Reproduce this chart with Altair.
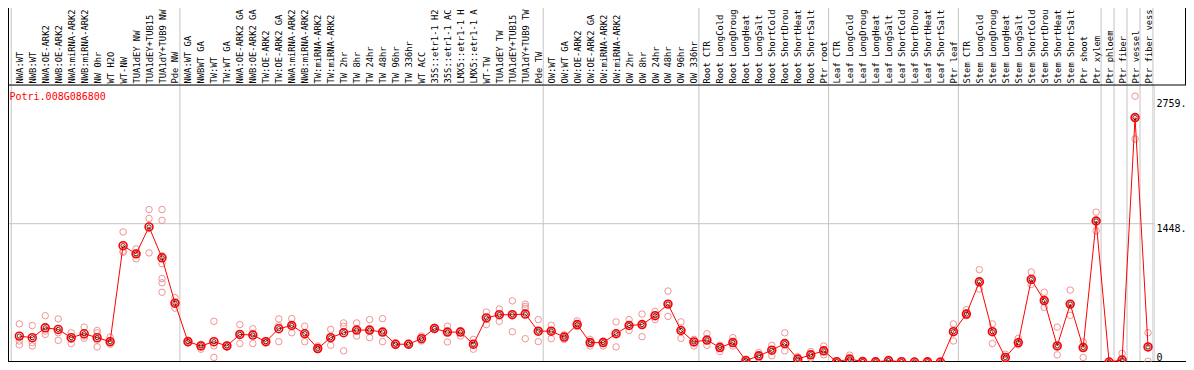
import json
import altair as alt
import pandas as pd

title_text = "Potri.008G086800"

# category labels as they read in the reference header (long ones are cut there)
labels = [
    "NWA:WT", "NWB:WT", "NWA:OE-ARK2", "NWB:OE-ARK2", "NWA:miRNA-ARK2", "NWB:miRNA-ARK2",
    "NW 0hr", "WT H2O", "WT-NW", "TUA1dEY NW", "TUA1dEY+TUB15", "TUA1dY+TUB9 NW", "Pde NW",
    "NWA:WT GA", "NWBWT GA", "TW:WT", "TW:WT GA", "NWA:OE-ARK2 GA", "NWB:OE-ARK2 GA",
    "TW:OE-ARK2", "TW:OE-ARK2 GA", "NWA:miRNA-ARK2", "NWB:miRNA-ARK2", "TW:miRNA-ARK2",
    "TW:miRNA-ARK2", "TW 2hr", "TW 8hr", "TW 24hr", "TW 48hr", "TW 96hr", "TW 336hr",
    "WT ACC", "35S::etr1-1 H2", "35S::etr1-1 AC", "LMX5::etr1-1 H", "LMX5::etr1-1 A",
    "WT-TW", "TUA1dEY TW", "TUA1dEY+TUB15", "TUA1dY+TUB9 TW", "Pde TW",
    "OW:WT", "OW:WT GA", "OW:OE-ARK2", "OW:OE-ARK2 GA", "OW:miRNA-ARK2", "OW:miRNA-ARK2",
    "OW 2hr", "OW 8hr", "OW 24hr", "OW 48hr", "OW 96hr", "OW 336hr",
    "Root CTR", "Root LongCold", "Root LongDroug", "Root LongHeat", "Root LongSalt",
    "Root ShortCold", "Root ShortDrou", "Root ShortHeat", "Root ShortSalt", "Ptr root",
    "Leaf CTR", "Leaf LongCold", "Leaf LongDroug", "Leaf LongHeat", "Leaf LongSalt",
    "Leaf ShortCold", "Leaf ShortDrou", "Leaf ShortHeat", "Leaf ShortSalt", "Ptr leaf",
    "Stem CTR", "Stem LongCold", "Stem LongDroug", "Stem LongHeat", "Stem LongSalt",
    "Stem ShortCold", "Stem ShortDrou", "Stem ShortHeat", "Stem ShortSalt", "Ptr shoot",
    "Ptr xylem", "Ptr phloem", "Ptr fiber", "Ptr vessel", "Ptr fiber vess",
]

group_sizes = [13, 28, 12, 10, 10, 11, 1, 1, 1, 1]

means = [
    271, 255, 358, 341, 255, 296, 255, 213, 1218, 1132, 1414, 1091, 616,
    213, 168, 213, 168, 289, 282, 213, 348, 382, 296, 141, 255, 306, 334, 334, 313,
    186, 186, 244, 351, 313, 313, 186, 461, 495, 495, 502, 323,
    323, 261, 392, 203, 203, 296, 382, 392, 485, 606, 330, 210,
    230, 151, 203, 14, 65, 124, 193, 31, 75, 117,
    3, 31, 5, 2, 14, 3, 0, 2, 0, 317,
    502, 839, 317, 48, 203, 864, 643, 168, 606, 151, 1476,
    0, 21, 2559, 158,
]

replicates = [
    [399, 220, 179], [382, 203, 168], [485, 323, 289], [451, 306, 227], [306, 237, 193],
    [365, 271, 248], [330, 306, 227, 158], [261, 186, 213], [1362, 1149, 1160],
    [1184, 1080, 1140], [1596, 1503, 1142], [1596, 1483, 1112, 1029, 874, 829, 730],
    [674, 564, 620],
    [230, 200, 213], [185, 134, 168], [426, 168, 48], [180, 160, 168], [392, 193, 289],
    [348, 193, 300], [225, 200, 213], [451, 213, 380], [454, 306, 382], [375, 213, 296],
    [168, 130, 141], [341, 175, 255], [409, 375, 117], [409, 272, 334], [444, 255, 334],
    [454, 213, 313], [200, 170, 186], [196, 176, 186], [272, 220, 244], [365, 340, 351],
    [375, 210, 313], [330, 272, 313], [237, 134, 186], [523, 392, 461], [554, 426, 495],
    [640, 317, 495], [606, 581, 560, 244], [444, 213, 323],
    [385, 244, 323], [285, 237, 261], [430, 370, 392], [237, 168, 203], [220, 168, 203],
    [420, 158, 296], [444, 330, 382], [502, 265, 392], [530, 444, 485], [743, 478, 606],
    [420, 248, 330], [237, 168, 210],
    [296, 175, 230], [175, 110, 151], [255, 168, 203], [31, 0, 14], [100, 41, 65],
    [175, 65, 124], [306, 117, 193], [55, 10, 31], [110, 41, 75], [168, 75, 117],
    [5, 0, 3], [72, 10, 31], [8, 2, 5], [3, 0, 2], [30, 5, 14], [5, 0, 3], [1, 0, 0],
    [4, 0, 2], [0, 0, 0], [399, 220, 317],
    [547, 485, 502], [967, 764, 839], [399, 193, 317], [82, 20, 48], [248, 180, 203],
    [942, 812, 864], [730, 571, 643], [365, 75, 168], [753, 488, 606], [210, 48, 151],
    [1569, 1373, 1476],
    [0, 0, 0], [90, 0, 21], [2783, 2335, 2559], [306, 158, 7],
]

y_ticks = [0, 1448, 2759]
y_grid = [1448]

# ---- tables built from the arrays ----
mean_df = pd.DataFrame({"idx": list(range(1, len(means) + 1)), "val": means})
rep_rows = []
for i, reps in enumerate(replicates, start=1):
    for v in reps:
        rep_rows.append({"idx": i, "val": v})
rep_df = pd.DataFrame(rep_rows)

ends = [0]
for g in group_sizes:
    ends.append(ends[-1] + g)
sep_df = pd.DataFrame({"idx": [e + 0.38 for e in ends]})
ygrid_df = pd.DataFrame({"val": y_grid})
title_df = pd.DataFrame({"t": [title_text]})

W, H = 1146, 277
PAD_TOP, PAD_RIGHT = 77, 32
MONO = "DejaVu Sans Mono"

label_expr = "[" + ",".join(json.dumps(l) for l in labels) + "][datum.value - 1]"

xscale = alt.Scale(domain=[0.129, 88.46], nice=False, zero=False)
yscale = alt.Scale(domain=[0, 2900], nice=False, zero=True)

xaxis = alt.Axis(
    orient="top", values=list(range(1, len(labels) + 1)), labelExpr=label_expr,
    labelAngle=-90, labelAlign="left", labelBaseline="middle", labelPadding=2,
    labelFont=MONO, labelFontSize=8.8, labelColor="black", labelLimit=400,
    labelOverlap=False, labelFlush=False, ticks=False, grid=False,
    domain=False, title=None,
)
yaxis = alt.Axis(
    orient="right", values=y_ticks,
    labelExpr="datum.value == 0 ? '0' : datum.value + '.'",
    labelBaseline={"condition": {"test": "datum.value == 0", "value": "bottom"}, "value": "top"},
    labelAlign="left", labelPadding=2, labelFont=MONO, labelFontSize=10,
    labelColor="black", ticks=False, grid=False, domain=False, title=None,
)

X = alt.X("idx:Q", scale=xscale, axis=xaxis)
Y = alt.Y("val:Q", scale=yscale, axis=yaxis)

seps = alt.Chart(sep_df).mark_rule(color="#c4c4c4", strokeWidth=1).encode(
    x=X, y=alt.value(-PAD_TOP), y2=alt.value(H)
)
hgrid = alt.Chart(ygrid_df).mark_rule(color="#c4c4c4", strokeWidth=1).encode(
    y=Y, x=alt.value(0), x2=alt.value(W)
)
frame_top = alt.Chart(title_df).mark_rule(color="black", strokeWidth=1).encode(
    x=alt.value(0), x2=alt.value(W + PAD_RIGHT), y=alt.value(0)
)
frame_bottom = alt.Chart(title_df).mark_rule(color="black", strokeWidth=2).encode(
    x=alt.value(0), x2=alt.value(W + PAD_RIGHT), y=alt.value(H)
)
frame_left = alt.Chart(title_df).mark_rule(color="black", strokeWidth=1).encode(
    x=alt.value(0.5), y=alt.value(-PAD_TOP), y2=alt.value(H)
)
frame_right = alt.Chart(title_df).mark_rule(color="black", strokeWidth=1).encode(
    x=alt.value(W + PAD_RIGHT - 0.5), y=alt.value(-PAD_TOP), y2=alt.value(0)
)

reps_layer = alt.Chart(rep_df).mark_point(
    shape="circle", filled=False, color="#f09494", size=42, strokeWidth=1, opacity=1
).encode(x=X, y=Y)

line_layer = alt.Chart(mean_df).mark_line(color="red", strokeWidth=1).encode(
    x=X, y=Y, order="idx:Q"
)
mean_outer = alt.Chart(mean_df).mark_point(
    shape="circle", filled=False, color="red", size=62, strokeWidth=1.6, opacity=1
).encode(x=X, y=Y)
mean_inner = alt.Chart(mean_df).mark_point(
    shape="circle", filled=False, color="#300000", size=18, strokeWidth=0.8, opacity=1
).encode(x=X, y=Y)

title_layer = alt.Chart(title_df).mark_text(
    align="left", baseline="middle", color="red", font=MONO, fontSize=10
).encode(text="t:N", x=alt.value(1.5), y=alt.value(12))

chart = alt.layer(
    seps, hgrid, frame_top, frame_bottom, frame_left, frame_right,
    reps_layer, line_layer, mean_outer, mean_inner, title_layer,
).properties(
    width=W, height=H,
    autosize=alt.AutoSizeParams(type="none"),
    padding={"left": 0, "top": PAD_TOP, "right": PAD_RIGHT, "bottom": 0},
).configure_view(stroke=None).configure(background="white")

chart.save("out.html", embed_options={"renderer": "svg", "actions": False})
